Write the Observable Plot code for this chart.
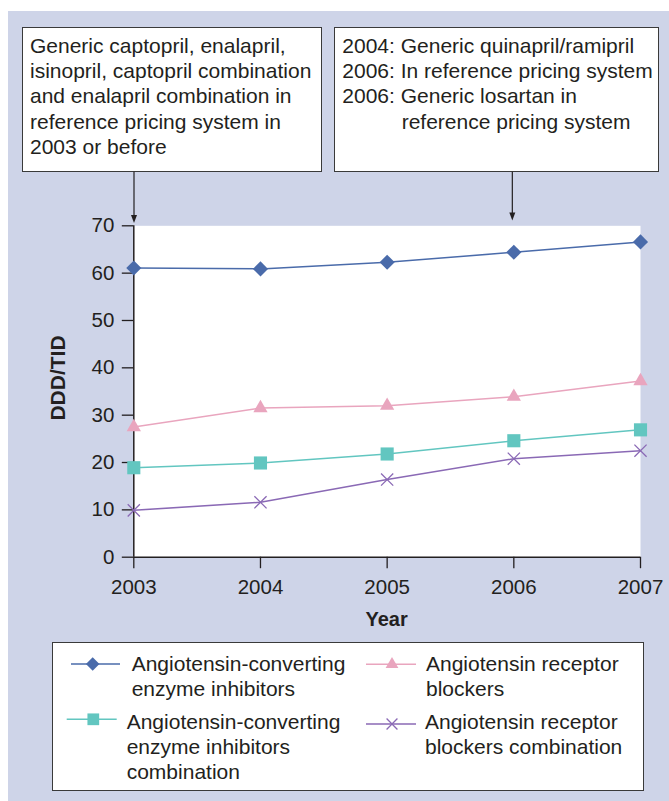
<!DOCTYPE html>
<html>
<head>
<meta charset="utf-8">
<script src="https://cdn.jsdelivr.net/npm/d3@7"></script>
<script src="https://cdn.jsdelivr.net/npm/@observablehq/plot@0.6"></script>
<style>
  html, body { margin: 0; padding: 0; background: #ffffff; }
  #root { position: relative; width: 669px; height: 801px; overflow: hidden;
          font-family: "Liberation Sans", Arial, Helvetica, sans-serif; color: #231f20; }
  #bg { position: absolute; left: 8px; top: 11px; right: 0; bottom: 0; background: #ced4e8; }
  .box { position: absolute; background: #ffffff; border: 1.4px solid #3a3a3a; box-sizing: border-box; }
  .txt { position: absolute; font-size: 21px; line-height: 25.3px; white-space: nowrap; }
  .leg { position: absolute; font-size: 21px; line-height: 25px; white-space: nowrap; }
  #ylab { position: absolute; left: 57.3px; top: 378px; font-size: 21px; font-weight: bold; line-height: 21px;
          transform: translate(-50%, -50%) rotate(-90deg); white-space: nowrap; }
  #xlab { position: absolute; top: 609px; font-size: 20px; font-weight: bold; line-height: 20px;
          transform: translateX(-50%); white-space: nowrap; }
  #overlay { position: absolute; left: 0; top: 0; pointer-events: none; }
</style>
</head>
<body>
<div id="root"><div id="bg"></div></div>
<script>
// ---------------- data ----------------
const years = [2003, 2004, 2005, 2006, 2007];
const seriesNames = [
  "Angiotensin-converting enzyme inhibitors",
  "Angiotensin receptor blockers",
  "Angiotensin-converting enzyme inhibitors combination",
  "Angiotensin receptor blockers combination"
];
const aceInhibitors  = [61.1, 60.9, 62.3, 64.4, 66.6];
const arBlockers     = [27.5, 31.5, 32.0, 33.9, 37.2];
const aceCombination = [18.9, 19.9, 21.8, 24.6, 26.9];
const arbCombination = [9.9, 11.6, 16.4, 20.8, 22.5];
const yTicks = [0, 10, 20, 30, 40, 50, 60, 70];
const xTicks = [2003, 2004, 2005, 2006, 2007];
const yTitle = "DDD/TID";
const xTitle = "Year";
const legendLabels = [
  ["Angiotensin-converting", "enzyme inhibitors"],
  ["Angiotensin receptor", "blockers"],
  ["Angiotensin-converting", "enzyme inhibitors", "combination"],
  ["Angiotensin receptor", "blockers combination"]
];
const noteLeft = [
  "Generic captopril, enalapril,",
  "isinopril, captopril combination",
  "and enalapril combination in",
  "reference pricing system in",
  "2003 or before"
];
const noteRight = [
  "2004: Generic quinapril/ramipril",
  "2006: In reference pricing system",
  "2006: Generic losartan in",
  "reference pricing system"
];
const noteYears = [2003, 2006];

// ---------------- styles ----------------
const seriesValues = [aceInhibitors, arBlockers, aceCombination, arbCombination];
const seriesStyle = [
  { color: "#4a6baa", symbol: "diamond2", d3sym: d3.symbolDiamond2, r: 6.8, filled: true },
  { color: "#e9a5be", symbol: "triangle", d3sym: d3.symbolTriangle, r: 5.3, filled: true },
  { color: "#62c6c0", symbol: "square",   d3sym: d3.symbolSquare,   r: 7.4, filled: true },
  { color: "#8a69b5", symbol: "times",    d3sym: d3.symbolTimes,    r: 5.6, filled: false }
];
const drawOrder = [3, 2, 1, 0];

const table = seriesNames.flatMap((name, s) =>
  years.map((year, i) => ({ series: name, year, value: seriesValues[s][i] })));

const root = document.getElementById("root");
const ink = "#231f20";

// ---------------- plot ----------------
const plotTop = 180;
const marks = [
  Plot.frame({ fill: "white", stroke: "none" }),
  Plot.axisY({ ticks: yTicks, tickSize: 11.5, tickPadding: 8, fontSize: 20.5, strokeWidth: 1.3, label: null }),
  Plot.axisX({ ticks: xTicks, tickSize: 11.5, tickPadding: 11, fontSize: 20.5, strokeWidth: 1.3,
               tickFormat: d3.format("d"), label: null }),
  Plot.ruleX([years[0]], { stroke: ink, strokeWidth: 1.5 }),
  Plot.ruleY([0], { stroke: ink, strokeWidth: 1.5 })
];
for (const s of drawOrder) {
  const st = seriesStyle[s];
  const rows = table.filter(d => d.series === seriesNames[s]);
  marks.push(Plot.line(rows, { x: "year", y: "value", stroke: st.color, strokeWidth: 1.5 }));
  marks.push(Plot.dot(rows, st.filled
    ? { x: "year", y: "value", symbol: st.symbol, r: st.r, fill: st.color, stroke: "none" }
    : { x: "year", y: "value", symbol: st.symbol, r: st.r, fill: "none", stroke: st.color, strokeWidth: 1.3 }));
}

const chart = Plot.plot({
  width: 669,
  height: 460,
  marginLeft: 133.3,
  marginRight: 29,
  marginTop: 45.3,
  marginBottom: 83.3,
  style: { background: "transparent", color: ink, fontSize: "20.5px",
           fontFamily: "'Liberation Sans', Arial, Helvetica, sans-serif", overflow: "visible" },
  x: { domain: [years[0], years[years.length - 1]] },
  y: { domain: [yTicks[0], yTicks[yTicks.length - 1]] },
  marks
});
chart.style.position = "absolute";
chart.style.left = "0px";
chart.style.top = plotTop + "px";
root.appendChild(chart);

const xs = chart.scale("x");

// axis titles
const ylab = document.createElement("div");
ylab.id = "ylab"; ylab.textContent = yTitle; root.appendChild(ylab);
const xlab = document.createElement("div");
xlab.id = "xlab"; xlab.textContent = xTitle;
xlab.style.left = ((xs.apply(years[0]) + xs.apply(years[years.length - 1])) / 2) + "px";
root.appendChild(xlab);

// ---------------- annotation boxes ----------------
function addBox(l, t, w, h) {
  const b = document.createElement("div");
  b.className = "box";
  Object.assign(b.style, { left: l + "px", top: t + "px", width: w + "px", height: h + "px" });
  root.appendChild(b);
}
function addText(cls, l, t, lines, indents) {
  const d = document.createElement("div");
  d.className = cls;
  d.style.left = l + "px"; d.style.top = t + "px";
  lines.forEach((line, i) => {
    const row = document.createElement("div");
    row.textContent = line;
    if (indents && indents[i]) row.style.paddingLeft = indents[i] + "px";
    d.appendChild(row);
  });
  root.appendChild(d);
}
addBox(22, 27.3, 299.7, 144.4);
addBox(334.3, 27.3, 324.7, 144.4);
addText("txt", 30, 32.8, noteLeft);
addText("txt", 342.3, 32.8, noteRight, [0, 0, 0, 59.4]);

// ---------------- legend ----------------
addBox(51.7, 641.7, 592.6, 149.3);
const legendPos = [
  { x1: 71,  x2: 120,   mx: 92.7,  my: 664,   tx: 131.7, ty: 651 },
  { x1: 366, x2: 416,   mx: 392,   my: 664.3, tx: 426,   ty: 651 },
  { x1: 66.7, x2: 116.7, mx: 93.3, my: 719.3, tx: 126.7, ty: 709 },
  { x1: 366, x2: 416,   mx: 392,   my: 724,   tx: 425,   ty: 709 }
];
legendLabels.forEach((lines, s) => addText("leg", legendPos[s].tx, legendPos[s].ty, lines));

// overlay: arrows and legend keys
const ov = d3.select(root).append("svg").attr("id", "overlay").attr("width", 669).attr("height", 801);
const arrowTop = 171.7, arrowTips = [223, 220.5];
noteYears.forEach((yr, i) => {
  const x = xs.apply(yr) + (i === 0 ? 0.7 : -1);
  const tip = arrowTips[i];
  ov.append("line").attr("x1", x).attr("x2", x).attr("y1", arrowTop).attr("y2", tip - 6)
    .attr("stroke", ink).attr("stroke-width", 1.2);
  ov.append("path").attr("d", `M${x - 3},${tip - 8}L${x + 3},${tip - 8}L${x},${tip}Z`).attr("fill", ink);
});
seriesStyle.forEach((st, s) => {
  const p = legendPos[s];
  ov.append("line").attr("x1", p.x1).attr("x2", p.x2).attr("y1", p.my).attr("y2", p.my)
    .attr("stroke", st.color).attr("stroke-width", 1.5);
  const sym = d3.symbol(st.d3sym, Math.PI * st.r * st.r * 0.8);
  ov.append("path").attr("d", sym()).attr("transform", `translate(${p.mx},${p.my})`)
    .attr("fill", st.filled ? st.color : "none").attr("stroke", st.filled ? "none" : st.color)
    .attr("stroke-width", 1.3);
});
</script>
</body>
</html>
